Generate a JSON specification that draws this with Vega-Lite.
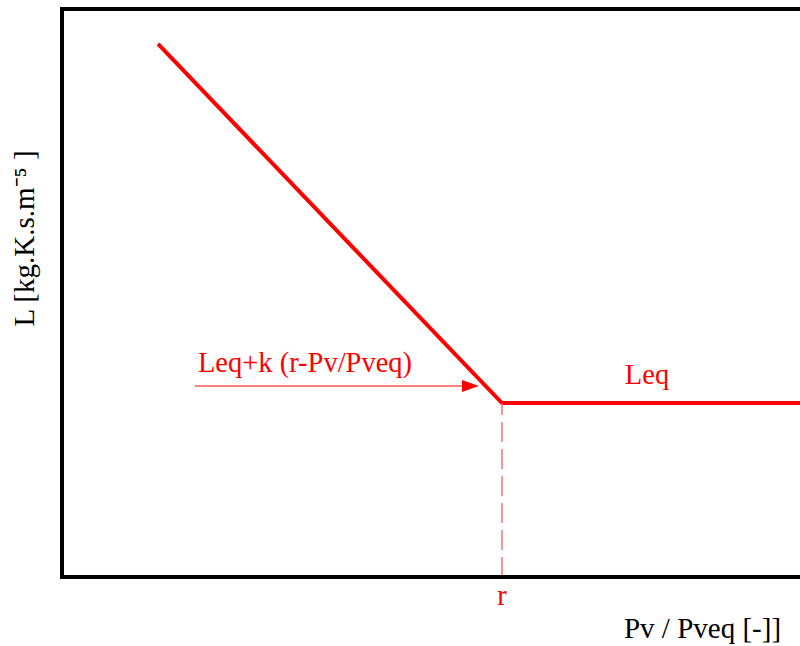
{
  "$schema": "https://vega.github.io/schema/vega-lite/v6.json",
  "width": 738,
  "height": 568,
  "autosize": {"type": "none"},
  "padding": {"left": 62, "top": 9, "right": 0, "bottom": 69},
  "background": "white",
  "config": {
    "view": {"stroke": null},
    "font": "Liberation Serif",
    "axis": {"domain": false, "ticks": false, "labels": false, "grid": false, "titleFont": "Liberation Serif", "titleFontWeight": "normal", "titleColor": "black", "titleFontSize": 29}
  },
  "datasets": {
    "curve": [
      {"x": 13.01, "y": 93.84},
      {"x": 59.62, "y": 30.63},
      {"x": 100, "y": 30.63}
    ],
    "dash": [{"x": 59.62, "y": 0, "y2": 30.63}],
    "arrow": [{"x": 18.02, "x2": 55.5, "y": 33.63}],
    "head": [{"x": 55.35, "y": 33.63}],
    "labels": [
      {"x": 32.93, "y": 36.09, "text": "Leq+k (r-Pv/Pveq)"},
      {"x": 79.27, "y": 33.98, "text": "Leq"},
      {"x": 59.62, "y": -4.93, "text": "r"}
    ],
    "frame": [{"edge": "frame"}]
  },
  "layer": [
    {
      "data": {"name": "curve"},
      "mark": {"type": "line", "color": "#ff0000", "strokeWidth": 4, "clip": false},
      "encoding": {
        "x": {"field": "x", "type": "quantitative", "scale": {"domain": [0, 100], "nice": false, "zero": false}, "axis": {"title": "Pv / Pveq [-]]", "orient": "bottom", "titleX": 640, "titleY": 60, "titleAlign": "center", "titleBaseline": "alphabetic"}},
        "y": {"field": "y", "type": "quantitative", "scale": {"domain": [0, 100], "nice": false, "zero": false}, "axis": {"title": "L [kg.K.s.m⁻⁵ ]", "orient": "left", "titleX": -29, "titleY": 229, "titleAngle": 270, "titleAlign": "center", "titleBaseline": "alphabetic"}}
      }
    },
    {
      "data": {"name": "dash"},
      "mark": {"type": "rule", "color": "#ff7070", "strokeWidth": 1.5, "strokeDash": [20, 7]},
      "encoding": {
        "x": {"field": "x", "type": "quantitative"},
        "y": {"field": "y", "type": "quantitative"},
        "y2": {"field": "y2"}
      }
    },
    {
      "data": {"name": "arrow"},
      "mark": {"type": "rule", "color": "#ff0000", "strokeWidth": 1.2},
      "encoding": {
        "x": {"field": "x", "type": "quantitative"},
        "x2": {"field": "x2"},
        "y": {"field": "y", "type": "quantitative"}
      }
    },
    {
      "data": {"name": "head"},
      "mark": {"type": "point", "shape": "M-1,-0.7L1,0L-1,0.7Z", "filled": true, "color": "#ff0000", "size": 289, "opacity": 1},
      "encoding": {
        "x": {"field": "x", "type": "quantitative"},
        "y": {"field": "y", "type": "quantitative"}
      }
    },
    {
      "data": {"name": "labels"},
      "mark": {"type": "text", "color": "#ff0000", "font": "Liberation Serif", "fontSize": 28.5, "align": "center", "baseline": "alphabetic"},
      "encoding": {
        "x": {"field": "x", "type": "quantitative"},
        "y": {"field": "y", "type": "quantitative"},
        "text": {"field": "text"}
      }
    },
    {
      "data": {"name": "frame"},
      "mark": {"type": "rule", "color": "black", "strokeWidth": 4, "strokeCap": "square"},
      "encoding": {"x": {"datum": 0}}
    },
    {
      "data": {"name": "frame"},
      "mark": {"type": "rule", "color": "black", "strokeWidth": 4, "strokeCap": "square"},
      "encoding": {"y": {"datum": 0}}
    },
    {
      "data": {"name": "frame"},
      "mark": {"type": "rule", "color": "black", "strokeWidth": 4, "strokeCap": "square"},
      "encoding": {"y": {"datum": 100}}
    }
  ]
}
